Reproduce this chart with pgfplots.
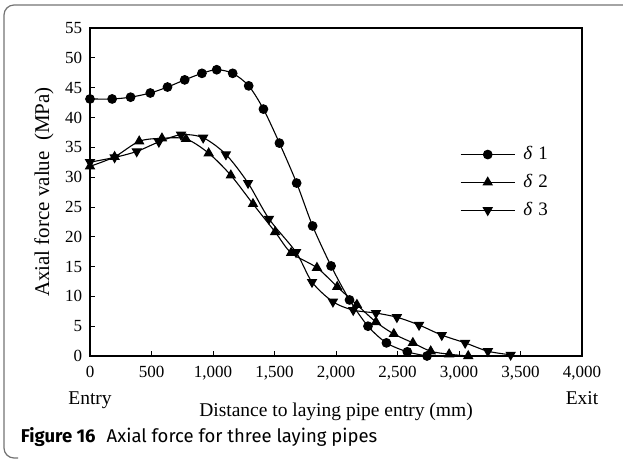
\documentclass[border=0pt]{standalone}
\usepackage{fontspec}
\setmainfont{Liberation Serif}
\newfontfamily\capfont{Fira Sans}
\usepackage{pgfplots}
\pgfplotsset{compat=1.18}
\begin{document}
\fontsize{17}{20}\selectfont
\begin{tikzpicture}
\path[use as bounding box] (0,0) rectangle (623pt,460pt);
\draw[black!55, line width=1.2pt, rounded corners=10pt] (623pt,455pt) -- (4pt,455pt) -- (4pt,2pt) -- (18pt,2pt);
\begin{axis}[
  at={(90pt,104pt)}, anchor=south west,
  scale only axis, width=492pt, height=328pt,
  xmin=0, xmax=4000, ymin=0, ymax=55,
  xtick={0,500,...,4000}, ytick={0,5,...,55},
  xticklabels={0,500,{1,000},{1,500},{2,000},{2,500},{3,000},{3,500},{4,000}},
  tick pos=left, tick align=inside, major tick length=5pt,
  tick style={black, line width=0.8pt},
  axis line style={black, line width=1.2pt},
  /pgf/number format/assume math mode=true,
  ticklabel style={font=\fontsize{17}{20}\selectfont},
  xticklabel style={yshift=-4pt},
  yticklabel style={xshift=-2pt},
  ylabel={Axial force value\ \ (MPa)},
  ylabel style={font=\fontsize{21}{24}\selectfont, yshift=0pt},
  xlabel={Distance to laying pipe entry (mm)},
  xlabel style={font=\fontsize{19.5}{22}\selectfont, yshift=-12pt},
  legend style={at={(0.752,0.645)}, anchor=north west, draw=none, fill=none,
    font=\fontsize{19}{22}\selectfont, row sep=8pt, inner sep=0pt,
    nodes={inner xsep=8pt}},
  legend cell align=left,
  legend image code/.code={\draw[mark repeat=2,mark phase=2] plot coordinates {(0pt,0pt)(27pt,0pt)(54pt,0pt)};},
  every axis plot/.append style={black, line width=1.1pt, smooth},
  clip=false,
]
\addplot[mark=*, mark size=4.3pt] coordinates {
(0,43.1) (180,43.1) (330,43.4) (490,44.1) (630,45.1) (770,46.3) (910,47.4) (1030,48.0)
(1160,47.4) (1290,45.3) (1410,41.4) (1540,35.7) (1680,29.0) (1810,21.8) (1960,15.1)
(2110,9.4) (2260,5.0) (2410,2.2) (2580,0.7) (2740,0.0)};
\addlegendentry{{\itshape δ}\,\,1}
\addplot[mark=triangle*, mark size=5pt] coordinates {
(0,31.8) (200,33.4) (400,36.0) (585,36.5) (780,36.4) (965,34.0) (1145,30.3) (1325,25.5)
(1505,20.8) (1635,17.3) (1845,14.8) (2010,11.6) (2170,8.6) (2325,5.7) (2470,3.7)
(2625,2.2) (2770,0.8) (2920,0.3) (3075,0.0)};
\addlegendentry{{\itshape δ}\,\,2}
\addplot[mark=triangle*, mark size=5pt, mark options={rotate=180}] coordinates {
(0,32.5) (200,33.3) (380,34.3) (560,35.9) (740,37.1) (920,36.6) (1105,33.8) (1285,29.0)
(1455,23.0) (1675,17.4) (1805,12.4) (1975,9.1) (2140,7.7) (2325,7.2) (2495,6.5)
(2675,5.2) (2860,3.5) (3050,2.2) (3235,0.8) (3420,0.2)};
\addlegendentry{{\itshape δ}\,\,3}
\node[anchor=base, font=\fontsize{19.5}{22}\selectfont] at (axis cs:0,0) [yshift=-48pt] {Entry};
\node[anchor=base, font=\fontsize{19.5}{22}\selectfont] at (axis cs:4000,0) [yshift=-48pt] {Exit};
\end{axis}
\node[anchor=base west, font=\capfont\fontsize{18.5}{22}\selectfont] at (15pt,17pt) {\textbf{Figure 16}\hspace{0.6em}Axial force for three laying pipes};
\end{tikzpicture}
\end{document}
